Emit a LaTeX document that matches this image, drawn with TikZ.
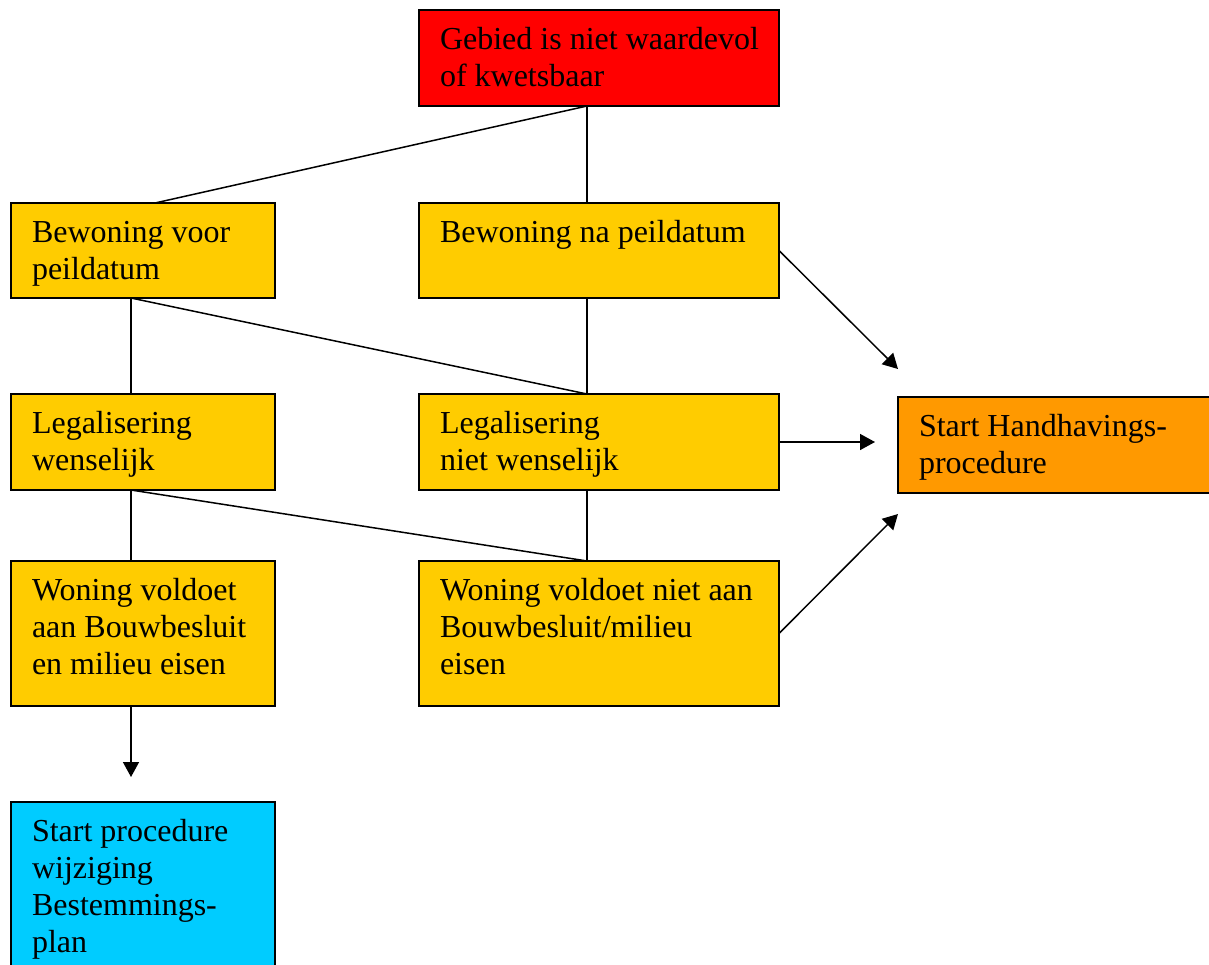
\documentclass[tikz,border=0pt]{standalone}
\usepackage{fontspec}
\setmainfont{Liberation Serif}
\usetikzlibrary{arrows.meta, positioning}
\definecolor{rood}{HTML}{FF0000}
\definecolor{geel}{HTML}{FFCC00}
\definecolor{oranje}{HTML}{FF9900}
\definecolor{blauw}{HTML}{00CCFF}
\tikzstyle{stroom}=[line width=1.5pt, >={Triangle[length=15pt,width=16pt]}]
\tikzstyle{vak}=[draw, rectangle, line width=1.5pt, outer sep=0pt, inner xsep=21pt, inner ysep=14pt, font=\fontsize{32pt}{36.8pt}\selectfont]
\newcommand{\vaktekst}[3]{\parbox[c][\dimexpr#2-28pt\relax][t]{\dimexpr#1-42pt\relax}{\begin{tabular}[t]{@{}l@{}}#3\end{tabular}}}

\begin{document}
\begin{tikzpicture}[stroom]
  \useasboundingbox (0,0) rectangle (1209pt,-964pt);
  \node[vak,fill=rood,anchor=north west] (gebied) at (419pt,-10pt) {\vaktekst{360pt}{96pt}{Gebied is niet waardevol\\of kwetsbaar}};
  \node[vak,fill=geel] (na) [below=97pt of gebied] {\vaktekst{360pt}{95pt}{Bewoning na peildatum}};
  \node[vak,fill=geel] (voor) [left=144pt of na] {\vaktekst{264pt}{95pt}{Bewoning voor\\peildatum}};
  \node[vak,fill=geel] (nietwens) [below=96pt of na] {\vaktekst{360pt}{96pt}{Legalisering\\niet wenselijk}};
  \node[vak,fill=geel] (wens) [left=144pt of nietwens] {\vaktekst{264pt}{96pt}{Legalisering\\wenselijk}};
  \node[vak,fill=geel] (voldoetniet) [below=71pt of nietwens] {\vaktekst{360pt}{145pt}{Woning voldoet niet aan\\Bouwbesluit/milieu\\eisen}};
  \node[vak,fill=geel] (voldoet) [left=144pt of voldoetniet] {\vaktekst{264pt}{145pt}{Woning voldoet\\aan Bouwbesluit\\en milieu eisen}};
  \node[vak,fill=blauw] (wijziging) [below=96pt of voldoet] {\vaktekst{264pt}{175pt}{Start procedure\\wijziging\\Bestemmings-\\plan}};
  \node[vak,fill=oranje] (handhaving) [right=119pt of nietwens, yshift=-3pt] {\vaktekst{312pt}{96pt}{Start Handhavings-\\procedure}};
  \path ([xshift=-12pt]gebied.south) edge ([xshift=12pt]voor.north);
  \path ([xshift=-12pt]gebied.south) edge ([xshift=-12pt]na.north);
  \path ([xshift=-12pt]voor.south) edge ([xshift=-12pt]wens.north);
  \path ([xshift=-12pt]voor.south) edge ([xshift=-12pt]nietwens.north);
  \path ([xshift=-12pt]na.south) edge ([xshift=-12pt]nietwens.north);
  \path ([xshift=-12pt]wens.south) edge ([xshift=-12pt]voldoet.north);
  \path ([xshift=-12pt]wens.south) edge ([xshift=-12pt]voldoetniet.north);
  \path ([xshift=-12pt]nietwens.south) edge ([xshift=-12pt]voldoetniet.north);
  \path[->] ([xshift=-12pt]voldoet.south) edge[shorten >=25pt] ([xshift=-12pt]wijziging.north);
  \path[->] (na.east) edge ([yshift=28pt]handhaving.north west);
  \path[->] (nietwens.east) edge[shorten >=23pt] (nietwens.east -| handhaving.west);
  \path[->] (voldoetniet.east) edge ([yshift=-21pt]handhaving.south west);
\end{tikzpicture}
\end{document}
